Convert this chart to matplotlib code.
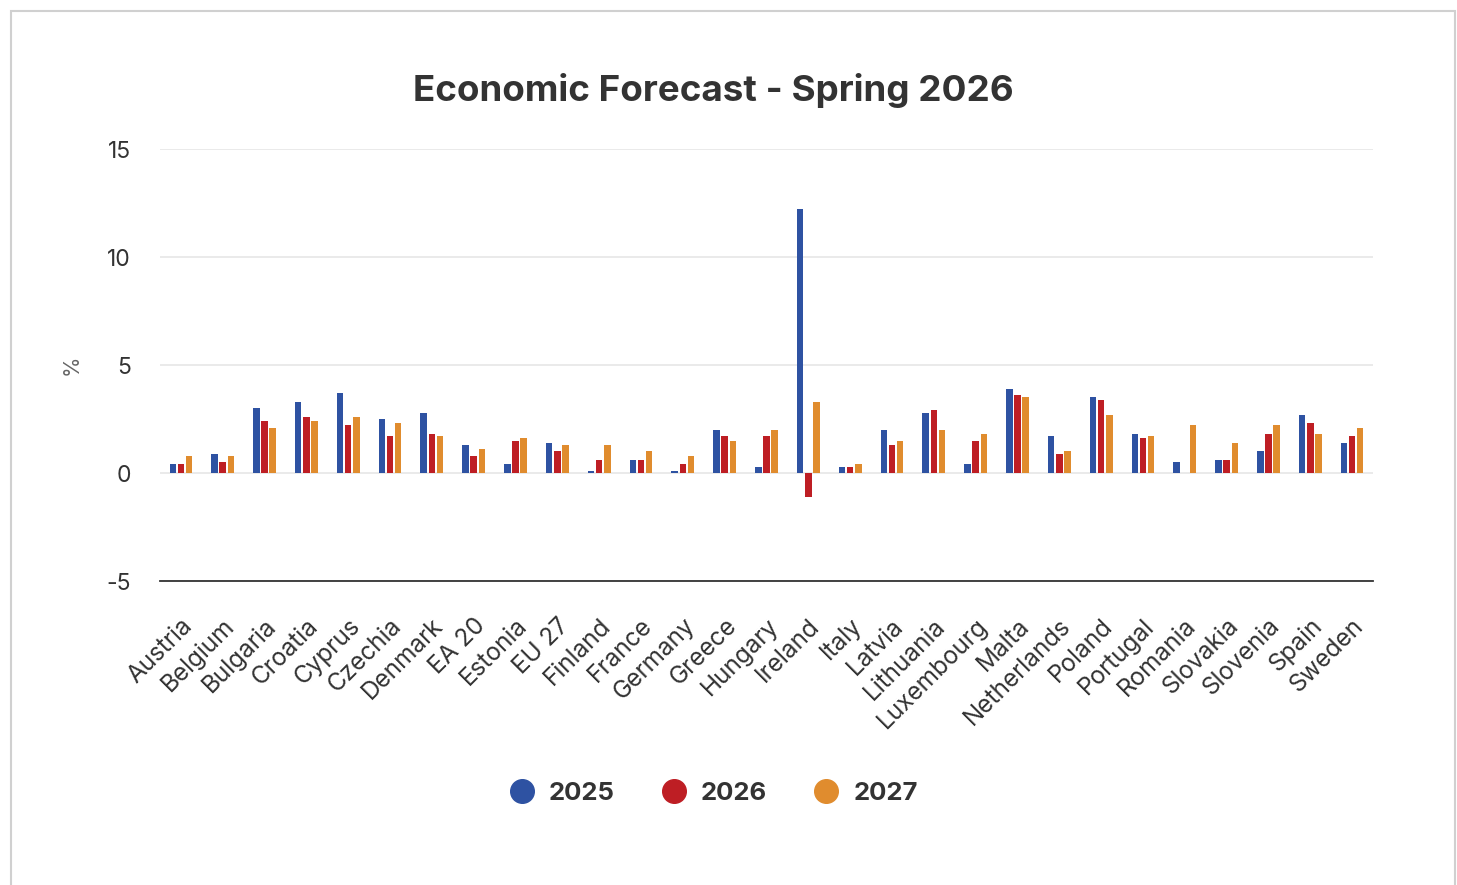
import numpy as np
import matplotlib
matplotlib.use("Agg")
import matplotlib.pyplot as plt
from matplotlib.patches import Rectangle
from matplotlib.lines import Line2D

plt.rcParams['font.family'] = ['Inter', 'DejaVu Sans']
plt.rcParams['axes.unicode_minus'] = False

countries = ["Austria", "Belgium", "Bulgaria", "Croatia", "Cyprus", "Czechia", "Denmark",
             "EA 20", "Estonia", "EU 27", "Finland", "France", "Germany", "Greece",
             "Hungary", "Ireland", "Italy", "Latvia", "Lithuania", "Luxembourg", "Malta",
             "Netherlands", "Poland", "Portugal", "Romania", "Slovakia", "Slovenia",
             "Spain", "Sweden"]
y2025 = [0.4, 0.9, 3.0, 3.3, 3.7, 2.5, 2.8,
         1.3, 0.4, 1.4, 0.1, 0.6, 0.1, 2.0,
         0.3, 12.2, 0.3, 2.0, 2.8, 0.4, 3.9,
         1.7, 3.5, 1.8, 0.5, 0.6, 1.0,
         2.7, 1.4]
y2026 = [0.4, 0.5, 2.4, 2.6, 2.2, 1.7, 1.8,
         0.8, 1.5, 1.0, 0.6, 0.6, 0.4, 1.7,
         1.7, -1.1, 0.3, 1.3, 2.9, 1.5, 3.6,
         0.9, 3.4, 1.6, np.nan, 0.6, 1.8,
         2.3, 1.7]
y2027 = [0.8, 0.8, 2.1, 2.4, 2.6, 2.3, 1.7,
         1.1, 1.6, 1.3, 1.3, 1.0, 0.8, 1.5,
         2.0, 3.3, 0.4, 1.5, 2.0, 1.8, 3.5,
         1.0, 2.7, 1.7, 2.2, 1.4, 2.2,
         1.8, 2.1]
series = ["2025", "2026", "2027"]
colors = ["#2E52A2", "#BE1E24", "#E08C2E"]

fig = plt.figure(figsize=(14.57, 8.85), dpi=100)
fig.patch.set_facecolor("white")
fig.patches.append(Rectangle((11/1457, -0.05), (1455-11)/1457, 1.05 - 11/885,
                             transform=fig.transFigure, fill=False,
                             edgecolor="#d0d0d0", linewidth=1.5))

ax = fig.add_axes([160/1457, 1-581/885, (1373-160)/1457, (581-149)/885])
x = np.arange(len(countries))
w = 0.155
off = 0.195
for i, (vals, c, lab) in enumerate(zip([y2025, y2026, y2027], colors, series)):
    ax.bar(x + (i-1)*off, vals, width=w, color=c, label=lab, zorder=3)

ax.set_xlim(-0.5, len(countries)-0.5)
ax.set_ylim(-5, 15)
ax.set_yticks([-5, 0, 5, 10, 15])
ax.grid(axis='y', color="#e6e6e6", linewidth=1.2, zorder=0)
for s in ['top', 'right', 'left']:
    ax.spines[s].set_visible(False)
ax.spines['bottom'].set_color("#333333")
ax.spines['bottom'].set_linewidth(1.3)
ax.tick_params(axis='both', length=0, labelcolor="#333333")
ax.tick_params(axis='y', pad=21, labelsize=16.5)
ax.set_xticks(x)
ax.set_xticklabels(countries, rotation=45, ha='right', rotation_mode='anchor')
ax.tick_params(axis='x', pad=24, labelsize=17.5)
ax.set_ylabel("%", fontsize=15, color="#666666", labelpad=18)

fig.text(713/1457, 1-91/885, "Economic Forecast - Spring 2026", ha='center', va='center',
         fontsize=26.5, fontweight='bold', color="#333333")

handles = [Line2D([], [], marker='o', linestyle='none', markersize=17, color=c) for c in colors]
fig.legend(handles, series, loc='center', bbox_to_anchor=(707/1457, 1-793/885), ncol=3,
           frameon=False, prop={'size': 18.5, 'weight': 'bold'}, handletextpad=0.05,
           columnspacing=1.3, labelcolor="#333333")

fig.savefig("out.png", dpi=100)
